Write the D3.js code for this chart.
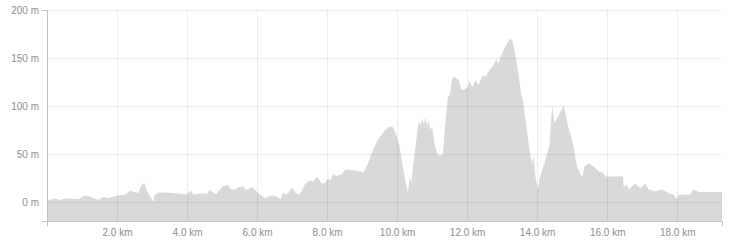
<!DOCTYPE html>
<html>
<head>
<meta charset="utf-8">
<script src="https://cdn.jsdelivr.net/npm/d3@7"></script>
<style>
body { margin:0; background:#fff; }
svg { display:block; font-family:"Inter","Liberation Sans",sans-serif; }
.axis text { fill:#8e8e8e; font-size:10px; }
.axis path { stroke:#c4c4c4; }
.grid line { stroke:rgba(0,0,0,0.07); }
</style>
</head>
<body>
<svg id="chart"></svg>
<script>
// distance along the route (km) and elevation (m)
var dist = [0,0.12,0.23,0.37,0.51,0.9,1.08,1.22,1.46,1.61,1.74,1.99,2.23,2.37,2.51,2.61,2.7,2.78,2.83,2.89,2.99,3.03,3.08,3.18,3.36,3.6,3.8,3.98,4.13,4.17,4.32,4.46,4.56,4.65,4.75,4.84,4.98,5.08,5.17,5.24,5.36,5.46,5.6,5.7,5.84,5.93,6.08,6.22,6.41,6.55,6.68,6.74,6.82,6.88,7.01,7.1,7.22,7.36,7.5,7.6,7.71,7.84,7.93,8.03,8.1,8.17,8.27,8.41,8.53,8.69,8.83,9.04,9.17,9.31,9.45,9.64,9.79,9.88,9.98,10.07,10.17,10.31,10.36,10.4,10.5,10.62,10.66,10.72,10.76,10.81,10.86,10.91,10.95,11.0,11.07,11.14,11.21,11.31,11.36,11.45,11.5,11.58,11.64,11.76,11.83,11.93,12.02,12.07,12.15,12.24,12.33,12.45,12.52,12.64,12.73,12.83,12.9,12.97,13.07,13.16,13.24,13.3,13.35,13.45,13.54,13.61,13.69,13.78,13.86,13.89,13.95,14.02,14.07,14.21,14.35,14.43,14.49,14.64,14.76,14.86,15.0,15.14,15.24,15.3,15.35,15.47,15.62,15.76,15.85,15.95,16.45,16.47,16.57,16.61,16.8,16.95,17.09,17.18,17.37,17.56,17.75,17.9,17.99,18.04,18.37,18.47,18.61,19.28];
var elev = [1.5,2.5,3.5,2,3.5,3,6.2,5.5,2,4.9,4,6.2,7.3,11.5,10,9.5,17.7,19.4,15,9,2.8,0.3,7.3,9.7,9.7,9,8.4,7.7,11.5,7.3,8.4,9,8.4,12.5,9.4,8,15.3,16.7,17.7,13,12.5,15.3,16,12,15.3,13.2,7.3,3.8,6.5,5.6,2.8,10,7.3,9,15,9,7.5,17.7,22.5,21,26.4,19,19.4,24,22,29,27,28.5,34,33,32.6,30.5,40,54,64.6,74,78.5,78,70,57.6,35,9,26.4,20,50,85,78.5,87,81,88,79,85,75,78.5,60,50,48,49,75,109.7,112,128.8,130.5,127,116.7,117,120,126.4,119.4,126.4,121.9,132.3,130.5,137.5,141,148.6,144.4,153,160,166,170.5,167,158,137.5,113,102.8,78.5,55,38,49,26,13,25,40.3,59,101,82,92,101,82,64.6,36.8,28.1,26.4,36.8,40.3,36.8,31.6,31,26.4,26.4,16,17.7,13.2,18.75,14.2,18.75,13.2,10.7,13.2,9,7.3,2.8,7.3,7.3,13.2,10.3,10.3];
var xTicks = [2,4,6,8,10,12,14,16,18];
var yTicks = [0,50,100,150,200];

var screen = {width:736, height:250};
var margins = {top:10, bottom:29, left:47, right:14};
var graph = {
    width:screen.width-margins.left-margins.right,
    height:screen.height-margins.top-margins.bottom
};

var svg = d3.select("#chart")
    .attr("width",screen.width)
    .attr("height",screen.height);

var g = svg.append("g")
    .attr("transform","translate("+margins.left+","+margins.top+")");

var xScale = d3.scaleLinear()
    .domain([0,d3.max(dist)])
    .range([0,graph.width]);

var yScale = d3.scaleLinear()
    .domain([-20,200])
    .range([graph.height,0]);

var points = dist.map(function(d,i){ return {km:d, m:elev[i]}; });

var area = d3.area()
    .x(function(p){ return xScale(p.km); })
    .y0(graph.height)
    .y1(function(p){ return yScale(p.m); });

g.append("path")
    .datum(points)
    .attr("fill","#d9d9d9")
    .attr("d",area);

// grid on top of the area
var grid = g.append("g").classed("grid",true);
grid.selectAll(".vx")
    .data(xTicks)
    .enter()
    .append("line")
    .attr("x1",function(d){ return Math.round(xScale(d))+0.5; })
    .attr("x2",function(d){ return Math.round(xScale(d))+0.5; })
    .attr("y1",0)
    .attr("y2",graph.height);
grid.selectAll(".hy")
    .data(yTicks)
    .enter()
    .append("line")
    .attr("x1",0)
    .attr("x2",graph.width)
    .attr("y1",function(d){ return Math.round(yScale(d))+0.5; })
    .attr("y2",function(d){ return Math.round(yScale(d))+0.5; });

var xAxis = d3.axisBottom(xScale)
    .tickValues(xTicks)
    .tickFormat(function(d){ return d.toFixed(1)+" km"; })
    .tickSizeInner(0)
    .tickSizeOuter(5)
    .tickPadding(8);

var yAxis = d3.axisLeft(yScale)
    .tickValues(yTicks)
    .tickFormat(function(d){ return d+" m"; })
    .tickSizeInner(0)
    .tickSizeOuter(5)
    .tickPadding(8);

g.append("g")
    .classed("axis",true)
    .attr("transform","translate(0,"+graph.height+")")
    .call(xAxis)
    .call(function(a){ a.selectAll(".tick line").remove(); a.selectAll("text").attr("font-family",null).attr("font-size",null); });

g.append("g")
    .classed("axis",true)
    .call(yAxis)
    .call(function(a){ a.selectAll(".tick line").remove(); a.selectAll("text").attr("font-family",null).attr("font-size",null); });
</script>
</body>
</html>
